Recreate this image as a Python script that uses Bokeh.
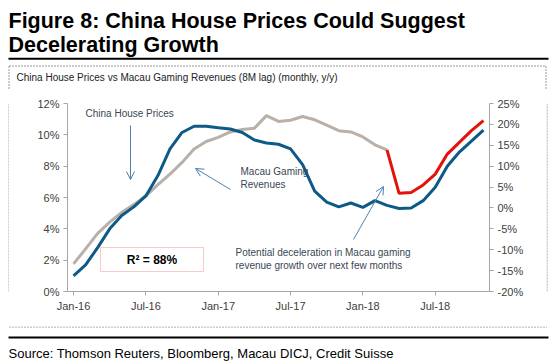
from bokeh.plotting import figure
from bokeh.layouts import column, row
from bokeh.models import (Range1d, LinearAxis, FixedTicker, PrintfTickFormatter, Label,
                          Arrow, OpenHead, BoxAnnotation)
from bokeh.embed import file_html
from bokeh.resources import INLINE

# ---- data (monthly, Jan-16 = 0) ----
months = list(range(35))
house_prices = [1.0, 1.7, 2.8, 4.0, 4.85, 5.4, 6.1, 7.4, 9.1, 10.15, 10.55, 10.55,
                10.45, 10.37, 10.15, 9.67, 9.48, 9.4, 9.1, 8.1, 6.4, 5.7, 5.4, 5.65,
                5.37, 5.8, 5.5, 5.3, 5.33, 5.8, 6.65, 8.0, 8.9, 9.6, 10.3]
macau_months = list(range(27))
macau_rev = [-13.4, -9.8, -6.1, -3.4, -1.05, 0.8, 2.9, 5.6, 8.1, 10.9, 14.1, 15.9,
             16.9, 18.2, 18.8, 19.1, 22.1, 20.7, 21.0, 21.9, 21.1, 19.8, 18.5, 18.2,
             17.0, 15.1, 13.9]
proj_months = list(range(26, 35))
macau_proj = [13.9, 3.5, 3.7, 5.5, 8.1, 12.9, 15.7, 18.5, 20.9]
x_ticks = [0, 6, 12, 18, 24, 30]
x_labels = ["Jan-16", "Jul-16", "Jan-17", "Jul-17", "Jan-18", "Jul-18"]
left_ticks = [0, 2, 4, 6, 8, 10, 12]
right_ticks = [-20, -15, -10, -5, 0, 5, 10, 15, 20, 25]

FONT = "Liberation Sans"
AX = "#a6a6a6"
TXT = "#404040"
NOTE = "#3a4654"
BOXC = "#9a9a9a"
BOXDASH = "2 1"


def canvas(w, h):
    f = figure(width=w, height=h, output_backend="svg", toolbar_location=None,
               x_range=Range1d(0, w), y_range=Range1d(h, 0),
               x_axis_type=None, y_axis_type=None, min_border=0)
    f.outline_line_color = None
    f.grid.visible = False
    return f


def plab(f, text, x, y, size, bold=False, color="black"):
    f.add_layout(Label(x=x, y=y, text=text, text_font=FONT, text_font_size=size,
                       text_font_style="bold" if bold else "normal",
                       text_color=color, text_baseline="middle"))


# ---- header (page y 0..90) ----
hdr = canvas(550, 90)
plab(hdr, "Figure 8: China House Prices Could Suggest", 8, 20, "21.5px", True)
plab(hdr, "Decelerating Growth", 8, 44.5, "21.5px", True)
hdr.add_layout(BoxAnnotation(left=8, right=548, top=57.3, bottom=59.3,
                             fill_color="black", fill_alpha=1, line_color=None))
hdr.segment(x0=[8.5, 8.5, 545.5], y0=[65.5, 65.5, 65.5], x1=[545.5, 8.5, 545.5],
            y1=[65.5, 90, 90], line_color=BOXC, line_width=1, line_dash=BOXDASH)
plab(hdr, "China House Prices vs Macau Gaming Revenues (8M lag) (monthly, y/y)",
     16, 76.5, "10px", color="#222222")

# ---- side strips (page y 90..326) ----
left_s = canvas(9, 236)
left_s.segment(x0=[8.5], y0=[0], x1=[8.5], y1=[236], line_color=BOXC,
               line_width=1, line_dash=BOXDASH)
right_s = canvas(4, 236)
right_s.segment(x0=[0.5], y0=[0], x1=[0.5], y1=[236], line_color=BOXC,
                line_width=1, line_dash=BOXDASH)

# ---- main chart (page x 9..546, y 90..326); frame page x 67..489, y 103..291 ----
FL, FR, FT, FB = 67, 489, 103, 291


def X(px):
    return -0.5 + (px - FL) * 35.0 / (FR - FL)


def Y(py):
    return 12.0 * (FB - py) / (FB - FT)


p = figure(width=537, height=236, output_backend="svg", toolbar_location=None,
           x_range=Range1d(-0.5, 34.5), y_range=Range1d(0, 12),
           min_border_left=FL - 9, min_border_right=546 - FR,
           min_border_top=FT - 90, min_border_bottom=326 - FB)
p.outline_line_color = None
p.grid.visible = False

p.extra_y_ranges = {"r": Range1d(-20, 25)}
ra = LinearAxis(y_range_name="r", ticker=FixedTicker(ticks=right_ticks),
                formatter=PrintfTickFormatter(format="%d%%"))
p.add_layout(ra, "right")

p.xaxis.ticker = FixedTicker(ticks=x_ticks)
p.xaxis.major_label_overrides = {t: l for t, l in zip(x_ticks, x_labels)}
p.yaxis[0].ticker = FixedTicker(ticks=left_ticks)
p.yaxis[0].formatter = PrintfTickFormatter(format="%d%%")

for ax in [p.xaxis[0], p.yaxis[0], ra]:
    ax.axis_line_color = AX
    ax.major_tick_line_color = AX
    ax.minor_tick_line_color = None
    ax.major_tick_in = 0
    ax.major_tick_out = 4
    ax.major_label_text_font = FONT
    ax.major_label_text_font_size = "11px"
    ax.major_label_text_color = TXT
    ax.major_label_standoff = 4

p.line(macau_months, macau_rev, y_range_name="r", line_color="#b8b0a9", line_width=3)
p.line(proj_months, macau_proj, y_range_name="r", line_color="#e3120b", line_width=3)
p.line(months, house_prices, line_color="#0e5a87", line_width=3)


def lab(text, px, py, size, bold=False, color=NOTE, align="left"):
    p.add_layout(Label(x=X(px), y=Y(py), text=text, text_font=FONT,
                       text_font_size=size, text_font_style="bold" if bold else "normal",
                       text_color=color, text_baseline="middle", text_align=align))


lab("China House Prices", 85, 113, "10px")
lab("Macau Gaming", 240, 171, "10px")
lab("Revenues", 240, 184, "10px")
lab("Potential deceleration in Macau gaming", 235, 252, "10px")
lab("revenue growth over next few months", 235, 264.5, "10px")

ARW = "#4f82ad"
for (x0, y0, x1, y1) in [(130, 125, 130, 179), (230, 189, 195, 168), (353, 239, 383, 186)]:
    p.add_layout(Arrow(x_start=X(x0), y_start=Y(y0), x_end=X(x1), y_end=Y(y1),
                       line_color=ARW, line_width=1,
                       end=OpenHead(size=8, line_color=ARW, line_width=1)))

p.add_layout(BoxAnnotation(left=X(100), right=X(203), top=Y(247), bottom=Y(271),
                           fill_color="white", fill_alpha=1, line_color="#e8504a",
                           line_width=1))
lab("R\u00b2 = 88%", 151.5, 259, "12px", True, "black", "center")

# ---- footer (page y 326..363) ----
ftr = canvas(550, 37)
ftr.segment(x0=[8.5], y0=[0.5], x1=[546.5], y1=[0.5], line_color=BOXC,
            line_width=1, line_dash=BOXDASH)
ftr.add_layout(BoxAnnotation(left=8, right=548, top=10, bottom=12,
                             fill_color="black", fill_alpha=1, line_color=None))
plab(ftr, "Source: Thomson Reuters, Bloomberg, Macau DICJ, Credit Suisse", 8, 26.5, "13px")

layout = column(hdr, row(left_s, p, right_s), ftr)
open("out.html", "w").write(file_html(layout, INLINE))
